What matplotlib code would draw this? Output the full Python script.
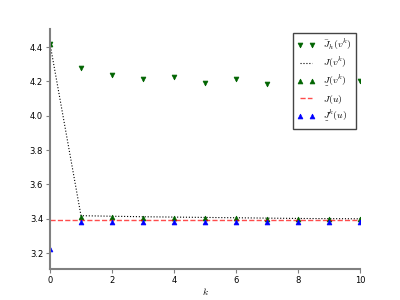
import matplotlib
matplotlib.use("Agg")
import matplotlib.pyplot as plt

plt.rcParams['mathtext.fontset'] = 'cm'

# iteraciones
k = [0, 1, 2, 3, 4, 5, 6, 7, 8, 9, 10]

# valores
J_bar_h = [4.42, 4.278, 4.24, 4.217, 4.225, 4.189, 4.217, 4.183, 4.23, 4.21, 4.20]
J_vk = [4.42, 3.418, 3.415, 3.412, 3.410, 3.408, 3.406, 3.404, 3.402, 3.401, 3.400]
J_low_vk = [4.42, 3.412, 3.410, 3.407, 3.405, 3.403, 3.402, 3.400, 3.399, 3.398, 3.397]
J_u = [3.392] * len(k)
J_low_k_u = [3.225, 3.38, 3.38, 3.38, 3.38, 3.38, 3.38, 3.38, 3.38, 3.38, 3.38]

fig = plt.figure(figsize=(4, 3), dpi=100)
ax = fig.add_axes([0.125, 0.103, 0.775, 0.8])

mk = dict(markersize=3.5, markeredgewidth=0.5, linestyle='none')
ax.plot(k, J_bar_h, marker='v', color='darkgreen', label=r'$\bar{J}_h(v^k)$', **mk)
ax.plot(k, J_vk, 'k:', linewidth=0.8, label=r'$J(v^k)$')
ax.plot(k, J_low_vk, marker='^', color='darkgreen', label=r'$\underset{\_}{J}(v^k)$', **mk)
ax.plot(k, J_u, '--', color='red', alpha=0.7, linewidth=1, label=r'$J(u)$')
ax.plot(k, J_low_k_u, marker='^', color='blue', label=r'$\underset{\_}{J}^k(u)$', **mk)

ax.set_xlim(0, 10)
ax.set_ylim(3.107, 4.505)
ax.set_xticks([0, 2, 4, 6, 8, 10])
ax.set_yticks([3.2, 3.4, 3.6, 3.8, 4.0, 4.2, 4.4])
ax.tick_params(labelsize=6, length=3, pad=2, color='gray')
ax.set_xlabel(r'$k$', fontsize=7, labelpad=1)

ax.spines['top'].set_visible(False)
ax.spines['right'].set_visible(False)
ax.spines['left'].set_color('gray')
ax.spines['bottom'].set_color('gray')
ax.spines['left'].set_linewidth(1.5)
ax.spines['bottom'].set_linewidth(1.5)

leg = ax.legend(loc='upper right', numpoints=2, fontsize=7, fancybox=False,
                framealpha=1, borderaxespad=0.4, handlelength=1.8,
                labelspacing=0.35, handletextpad=0.8, borderpad=0.5)
leg.get_frame().set_edgecolor('#444444')

fig.savefig('out.png', dpi=100)
